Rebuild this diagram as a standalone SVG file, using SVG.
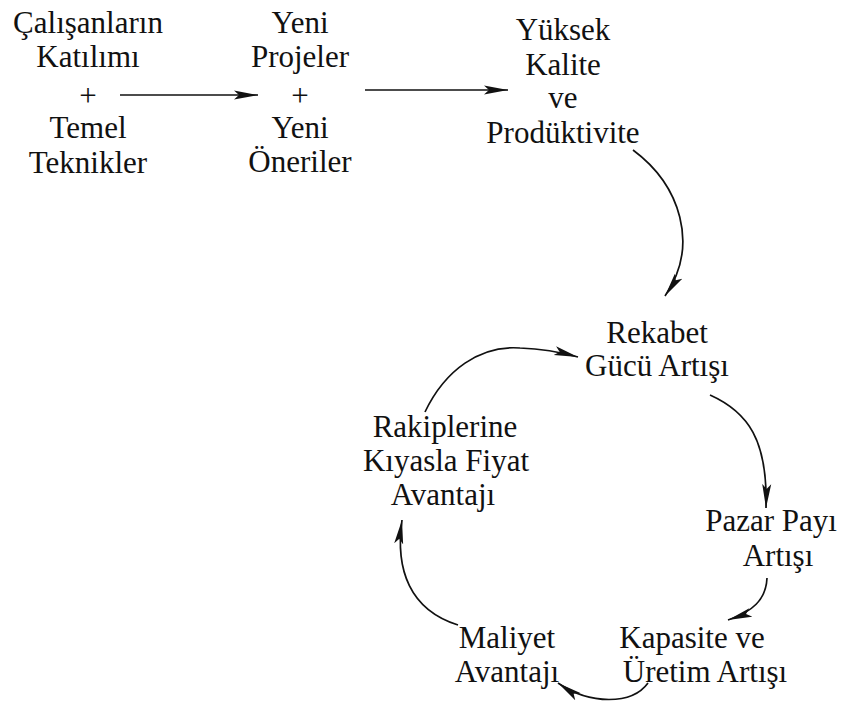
<svg xmlns="http://www.w3.org/2000/svg" width="849" height="703" viewBox="0 0 849 703">
  <style>
    .lbl { font-family: "Liberation Serif", "Times New Roman", serif; font-size: 31px; fill: #111; text-anchor: middle; }
    .edge { fill: none; stroke: #111; stroke-width: 1.7; }
  </style>
  <defs>
    <marker id="head" markerUnits="userSpaceOnUse" markerWidth="26" markerHeight="12" refX="24" refY="6" orient="auto">
      <path d="M0,1.5 L24,6 L0,10.5 L5,6 Z" fill="#111"/>
    </marker>
  </defs>
  <rect width="849" height="703" fill="#fff"/>

  <g id="n-katilim">
    <text class="lbl" x="88" y="33">Çalışanların</text>
    <text class="lbl" x="88" y="67">Katılımı</text>
    <text class="lbl" x="88" y="106">+</text>
    <text class="lbl" x="88" y="138">Temel</text>
    <text class="lbl" x="88" y="173">Teknikler</text>
  </g>
  <g id="n-projeler">
    <text class="lbl" x="300" y="33">Yeni</text>
    <text class="lbl" x="300" y="67">Projeler</text>
    <text class="lbl" x="300" y="106">+</text>
    <text class="lbl" x="300" y="138">Yeni</text>
    <text class="lbl" x="300" y="172">Öneriler</text>
  </g>
  <g id="n-kalite">
    <text class="lbl" x="563" y="40">Yüksek</text>
    <text class="lbl" x="563" y="75">Kalite</text>
    <text class="lbl" x="563" y="108">ve</text>
    <text class="lbl" x="563" y="143">Prodüktivite</text>
  </g>
  <g id="n-rekabet">
    <text class="lbl" x="657" y="343">Rekabet</text>
    <text class="lbl" x="657" y="376">Gücü Artışı</text>
  </g>
  <g id="n-pazar">
    <text class="lbl" x="771" y="531">Pazar Payı</text>
    <text class="lbl" x="778" y="566">Artışı</text>
  </g>
  <g id="n-kapasite">
    <text class="lbl" x="692" y="648">Kapasite ve</text>
    <text class="lbl" x="705" y="682">Üretim Artışı</text>
  </g>
  <g id="n-maliyet">
    <text class="lbl" x="507" y="648">Maliyet</text>
    <text class="lbl" x="507" y="682">Avantajı</text>
  </g>
  <g id="n-fiyat">
    <text class="lbl" x="445" y="437">Rakiplerine</text>
    <text class="lbl" x="446" y="471">Kıyasla Fiyat</text>
    <text class="lbl" x="443" y="505">Avantajı</text>
  </g>

  <g id="connectors">
    <path class="edge" d="M120,95 L258,95" marker-end="url(#head)"/>
    <path class="edge" d="M365,90 L508,90" marker-end="url(#head)"/>
    <path class="edge" d="M633,150 C680,185 700,245 665,296" marker-end="url(#head)"/>
    <path class="edge" d="M710,395 C748,412 768,440 766,508" marker-end="url(#head)"/>
    <path class="edge" d="M767,578 C766,600 752,612 728,620" marker-end="url(#head)"/>
    <path class="edge" d="M648,683 C632,705 590,705 558,683" marker-end="url(#head)"/>
    <path class="edge" d="M458,625 C410,610 395,570 402,520" marker-end="url(#head)"/>
    <path class="edge" d="M425,412 C445,370 480,345 520,348 C545,349 560,352 578,357" marker-end="url(#head)"/>
  </g>
</svg>
